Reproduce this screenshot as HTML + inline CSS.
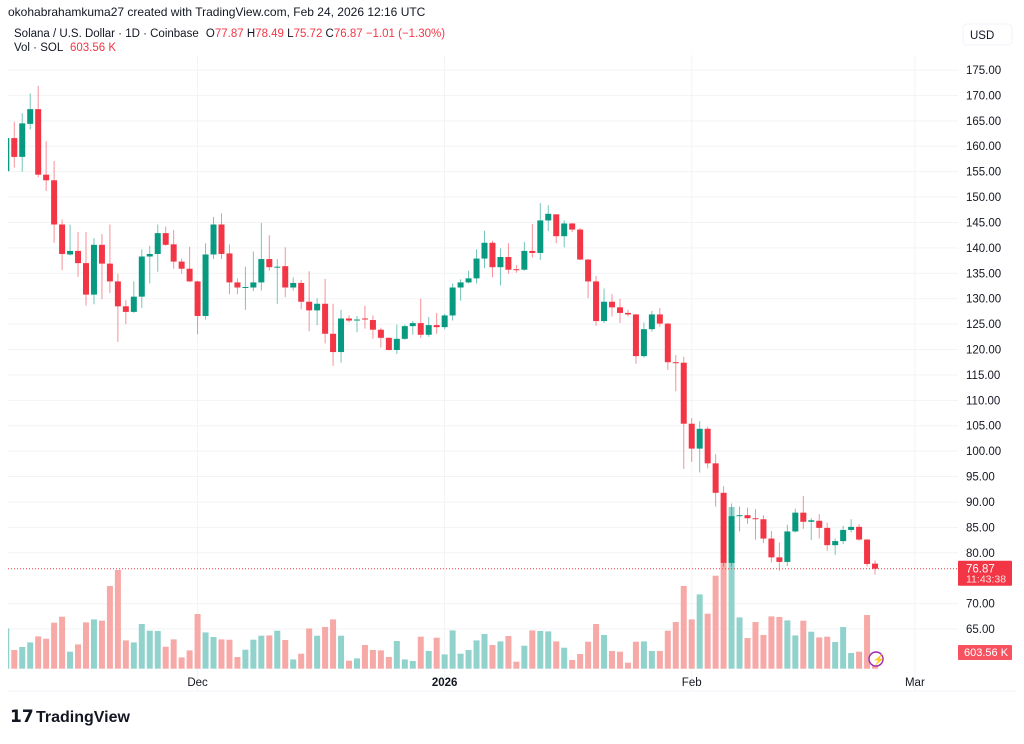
<!DOCTYPE html>
<html><head><meta charset="utf-8">
<style>
html,body{margin:0;padding:0;background:#fff;}
body{width:1024px;height:739px;overflow:hidden;font-family:"Liberation Sans",sans-serif;}
svg text{font-family:"Liberation Sans",sans-serif;}
</style></head>
<body>
<svg id="chart" width="1024" height="739" viewBox="0 0 1024 739" xmlns="http://www.w3.org/2000/svg">
<defs><clipPath id="plotclip"><rect x="8" y="55" width="950" height="635"/></clipPath></defs>
<g id="grid"></g>
<g id="vols" clip-path="url(#plotclip)"></g>
<g id="candles" clip-path="url(#plotclip)"></g>
<g id="yaxis"></g>
<g id="xaxis"></g>
<text x="8" y="16" font-size="12" fill="#131722">okohabrahamkuma27 created with TradingView.com, Feb 24, 2026 12:16 UTC</text>
<text x="14" y="37" font-size="11.5" fill="#131722">Solana / U.S. Dollar · 1D · Coinbase <tspan dx="4" fill="#131722">O</tspan><tspan fill="#f23645">77.87</tspan> <tspan fill="#131722">H</tspan><tspan fill="#f23645">78.49</tspan> <tspan fill="#131722">L</tspan><tspan fill="#f23645">75.72</tspan> <tspan fill="#131722">C</tspan><tspan fill="#f23645">76.87 −1.01 (−1.30%)</tspan></text>
<text x="14" y="51" font-size="11.5" fill="#131722">Vol · SOL <tspan dx="4" fill="#f23645">603.56 K</tspan></text>
<rect x="963" y="24" width="49" height="21" rx="4" fill="#fff" stroke="#f0f3fa"/>
<text x="970" y="39" font-size="11.5" fill="#131722">USD</text>
<g>
<text x="10" y="722" font-size="17" font-weight="bold" fill="#131722">𝟭𝟳</text>
<text x="36" y="722" font-size="16" font-weight="bold" fill="#131722">TradingView</text>
</g>
<g>
<circle cx="876" cy="659" r="7" fill="#fff" stroke="#9c27b0" stroke-width="1.4"/>
<text x="872.5" y="663" font-size="10" fill="#9c27b0">⚡</text>
</g>
</svg>
<script>
const openV=[155.1,161.6,157.9,164.4,167.3,154.4,153.3,144.6,138.7,139.4,137.0,130.8,140.6,136.9,133.4,128.5,127.4,130.4,138.3,138.8,142.9,140.7,137.3,135.9,133.4,126.6,138.7,144.6,138.9,133.2,132.2,132.2,133.2,137.8,136.2,136.4,132.2,133.1,129.4,127.7,129.0,123.1,119.5,126.1,125.7,126.1,125.8,123.9,122.3,119.9,122.1,124.6,125.2,122.9,124.8,124.4,126.7,132.2,133.2,134.0,137.9,141.0,136.2,138.2,135.8,135.7,139.4,139.0,145.4,146.6,142.3,144.8,143.6,137.7,133.4,125.6,129.4,128.3,127.2,126.9,118.7,124.0,126.9,125.1,117.5,117.4,105.4,100.5,104.4,97.6,91.8,78.0,87.3,87.4,86.8,86.6,82.8,79.1,78.2,84.2,87.9,86.1,86.3,84.9,81.5,82.3,84.5,85.1,82.6,77.87];
const highV=[162.5,164.8,166.5,170.4,171.9,161.0,157.1,145.6,144.6,143.1,143.1,141.9,142.7,144.6,134.9,129.7,133.4,139.7,140.4,144.6,144.2,143.5,137.9,140.2,133.5,140.9,146.1,146.8,140.7,134.0,136.3,139.3,144.9,142.5,137.8,140.1,134.2,133.7,135.4,130.1,133.9,129.0,127.8,126.7,126.6,128.6,126.7,124.3,122.4,124.9,124.9,125.6,130.0,126.4,127.2,127.0,133.0,133.8,135.5,139.7,143.4,141.4,139.9,140.9,136.6,141.2,144.7,148.8,148.4,146.6,145.4,144.9,143.9,137.8,134.5,132.0,130.9,130.0,127.8,127.0,125.3,127.6,128.2,125.2,118.9,118.6,106.5,105.9,104.8,99.4,93.1,89.7,89.1,88.9,88.6,87.4,84.3,82.0,85.5,88.7,91.2,86.8,87.6,85.9,82.8,85.3,86.6,85.6,82.7,78.49];
const lowV=[155.0,155.8,155.0,163.3,153.9,151.2,141.0,135.6,138.5,134.3,128.6,128.9,129.9,131.1,121.5,125.0,127.2,128.2,133.0,135.3,140.4,135.9,134.9,133.3,123.0,125.9,137.8,137.8,130.9,130.9,127.8,131.5,131.6,135.5,129.0,130.3,131.6,127.9,123.6,124.8,121.2,116.8,117.4,125.3,123.4,124.1,122.1,120.4,119.8,119.1,121.9,122.9,122.3,122.5,123.1,124.0,125.7,129.6,133.0,133.0,136.0,134.2,132.6,134.9,135.1,135.5,138.1,137.6,143.3,140.9,140.1,143.1,137.6,130.1,124.7,125.2,126.5,125.2,126.5,117.2,118.4,123.5,124.5,116.0,111.8,96.5,97.9,95.8,96.6,89.1,77.3,77.3,84.2,85.7,82.6,81.9,78.1,76.5,77.4,84.0,84.7,82.5,82.8,80.4,79.6,81.7,84.0,82.4,77.3,75.72];
const closeV=[161.6,157.9,164.5,167.3,154.4,153.3,144.6,138.8,139.4,137.0,130.8,140.6,136.9,133.4,128.5,127.4,130.4,138.3,138.8,142.9,140.6,137.3,135.9,133.4,126.6,138.7,144.6,138.8,133.2,132.2,132.3,133.2,137.8,136.2,136.3,132.2,133.1,129.4,127.7,129.0,123.1,119.5,126.1,125.7,125.9,125.9,123.9,122.3,119.9,122.1,124.6,125.2,122.9,124.8,124.4,126.7,132.2,133.2,134.0,137.9,141.0,136.2,138.2,135.7,135.7,139.4,139.0,145.4,146.7,142.3,144.8,143.6,137.7,133.4,125.6,129.4,128.3,127.2,126.9,118.7,124.0,126.9,125.1,117.5,117.4,105.4,100.5,104.4,97.6,91.8,78.0,87.2,87.4,86.8,86.6,82.8,79.1,78.2,84.2,87.9,86.1,86.4,84.9,81.5,82.3,84.5,85.1,82.6,77.8,76.87];
const volumeK=[1519,705,818,992,1218,1131,1734,1960,641,916,1746,1859,1810,3118,3721,1067,992,1685,1433,1421,829,1105,426,690,2062,1369,1195,1105,1093,441,716,1093,1244,1255,1433,1082,351,566,1519,1244,1572,1859,1244,302,388,893,705,690,441,1044,351,290,1206,667,1169,539,1444,566,705,1067,1308,893,1029,1233,264,867,1444,1421,1406,1029,792,328,554,1018,1685,1270,667,641,226,1018,1029,667,667,1433,1761,3118,1859,2801,2074,3506,3985,6096,1934,1157,1761,1270,1972,1949,1821,1255,1810,1395,1180,1206,1007,1572,592,641,2024,604];
const priceTicks=[175,170,165,160,155,150,145,140,135,130,125,120,115,110,105,100,95,90,85,80,70,65];
const timeLabels=["Dec","2026","Feb","Mar"];
const timeIndex=[24,55,86,114];
const lastPrice=76.87;

const NS="http://www.w3.org/2000/svg";
function yP(p){return 70+(175-p)*5.082;}
function yV(v){return 668.7-v/37.7;}
function xI(i){return 6.3+7.97*i;}
function mk(tag,attrs,parent){const e=document.createElementNS(NS,tag);for(const k in attrs)e.setAttribute(k,attrs[k]);parent.appendChild(e);return e;}
const grid=document.getElementById('grid'),yaxis=document.getElementById('yaxis'),xaxis=document.getElementById('xaxis');
priceTicks.forEach(p=>{
  const l=mk('line',{x1:8,x2:958,y1:yP(p),y2:yP(p),stroke:'#f2f3f5','stroke-width':1},grid);
  
  
  const t=mk('text',{x:966,y:yP(p)+4,'font-size':11.5,fill:'#131722'},yaxis);
  t.textContent=p.toFixed(2);
  
  
});
timeLabels.forEach((s,k)=>{
  const x=xI(timeIndex[k]);
  const l=mk('line',{x1:x,x2:x,y1:55,y2:690,stroke:'#f2f3f5','stroke-width':1},grid);
  
  
  const t=mk('text',{x:x,y:686,'font-size':11.5,fill:'#131722','text-anchor':'middle','font-weight':s==='2026'?'bold':'normal'},xaxis);
  t.textContent=s;
  
  
});
const fr=mk('line',{x1:8,x2:1016,y1:691,y2:691,stroke:'#f0f3fa'},grid);


const vg=document.getElementById('vols'),cg=document.getElementById('candles');
volumeK.forEach((v,i)=>{
  const up=closeV[i]>=openV[i];
  const r=mk('rect',{x:xI(i)-3,y:yV(v),width:6,height:668.7-yV(v),fill:up?'#92d2cc':'#f7a9a7'},vg);
  
  
});
openV.forEach((o,i)=>{
  const c=closeV[i],up=c>=o,col=up?'#089981':'#f23645',x=xI(i);
  const g=mk('g',{},cg);
  
  
  mk('line',{x1:x,x2:x,y1:yP(highV[i]),y2:yP(lowV[i]),stroke:col,'stroke-width':1,opacity:0.55},g);
  const top=yP(Math.max(o,c)),bot=yP(Math.min(o,c));
  mk('rect',{x:x-3,y:top,width:6,height:Math.max(1,bot-top),fill:col},g);
});
const pl=mk('line',{x1:8,x2:958,y1:yP(lastPrice),y2:yP(lastPrice),stroke:'#f23645','stroke-width':1,'stroke-dasharray':'1,2'},cg.parentNode);


const pb=mk('rect',{x:958,y:yP(lastPrice)-8,width:54,height:25,fill:'#f23645',rx:1},yaxis);


const pt=mk('text',{x:966,y:yP(lastPrice)+4,'font-size':11.5,fill:'#fff'},yaxis);
pt.textContent=lastPrice.toFixed(2);


const ct=mk('text',{x:966,y:yP(lastPrice)+14,'font-size':10.5,fill:'#fde0e2'},yaxis);
ct.textContent='11:43:38';


const vb=mk('rect',{x:958,y:645,width:54,height:15,fill:'#f7525f',rx:1},yaxis);


const vt=mk('text',{x:964,y:656,'font-size':11,fill:'#fff'},yaxis);
vt.textContent='603.56 K';


</script>
</body></html>
